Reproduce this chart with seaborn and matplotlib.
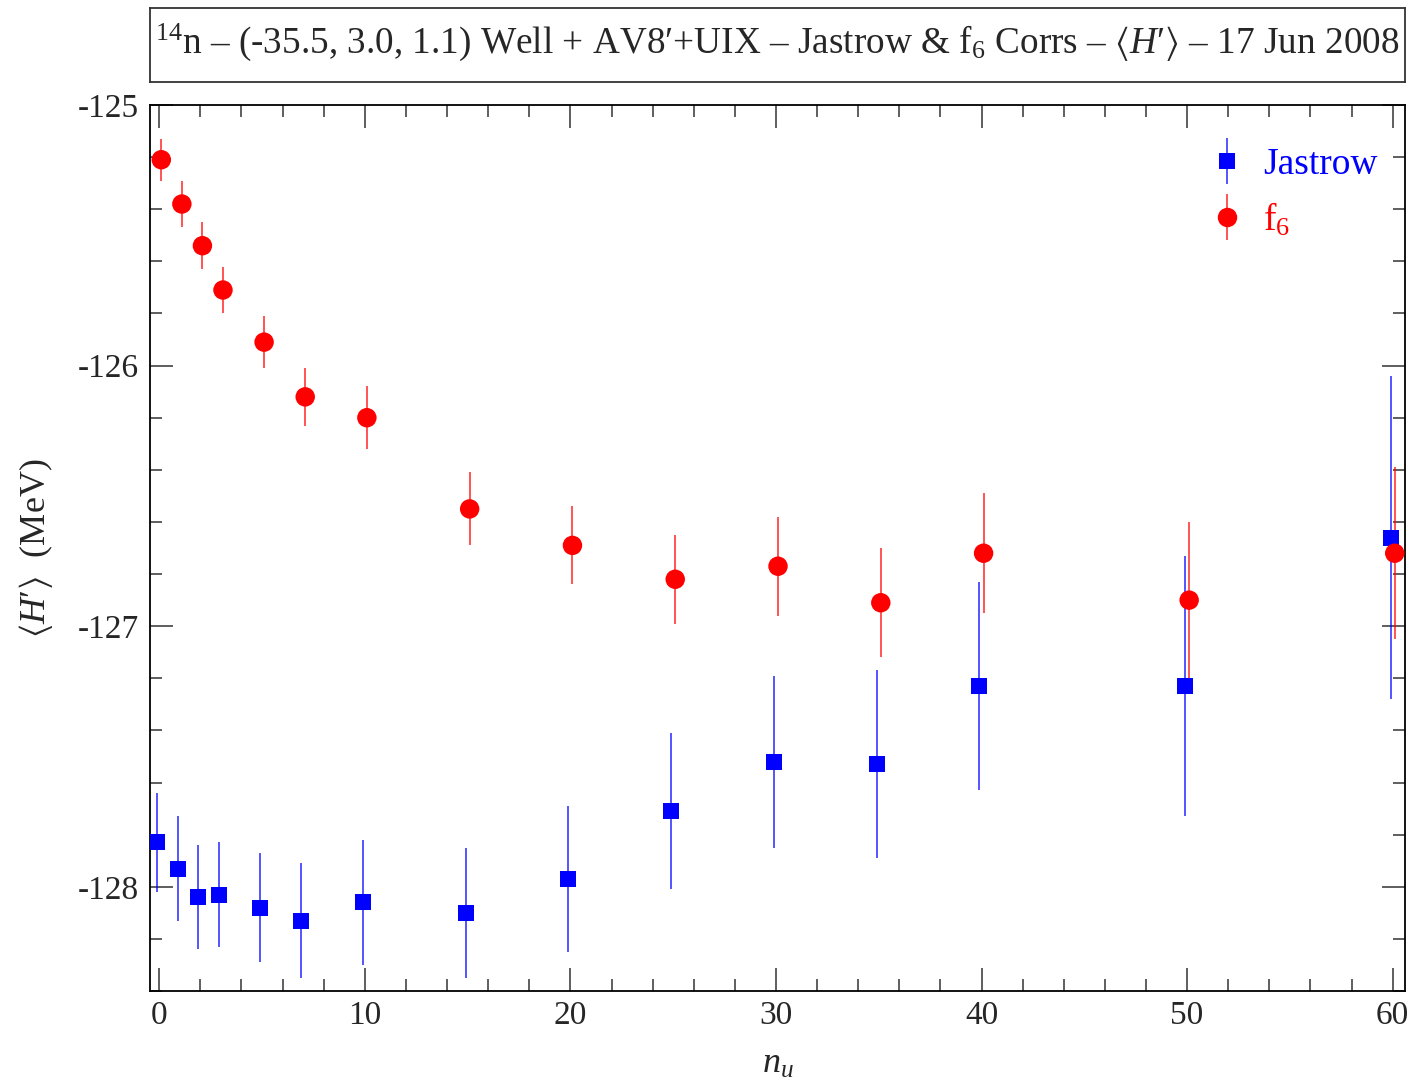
import numpy as np
import pandas as pd
import matplotlib
matplotlib.use("Agg")
import matplotlib.pyplot as plt
from matplotlib.ticker import MultipleLocator, FuncFormatter
from matplotlib.lines import Line2D
from matplotlib.container import ErrorbarContainer
from matplotlib.legend_handler import HandlerTuple, HandlerErrorbar
import seaborn as sns

# number of unconstrained steps
n_u = [0, 1, 2, 3, 5, 7, 10, 15, 20, 25, 30, 35, 40, 50, 60]

# <H'> energies (MeV) and statistical errors
jastrow_E = [-127.83, -127.93, -128.04, -128.03, -128.08, -128.13, -128.06,
             -128.10, -127.97, -127.71, -127.52, -127.53, -127.23, -127.23, -126.66]
jastrow_err = [0.19, 0.20, 0.20, 0.20, 0.21, 0.22, 0.24,
               0.25, 0.28, 0.30, 0.33, 0.36, 0.40, 0.50, 0.62]

f6_E = [-125.21, -125.38, -125.54, -125.71, -125.91, -126.12, -126.20,
        -126.55, -126.69, -126.82, -126.77, -126.91, -126.72, -126.90, -126.72]
f6_err = [0.08, 0.09, 0.09, 0.09, 0.10, 0.11, 0.12,
          0.14, 0.15, 0.17, 0.19, 0.21, 0.23, 0.30, 0.33]

series_labels = ["Jastrow", "f$_6$"]

df = pd.concat([
    pd.DataFrame({"n_u": n_u, "E": jastrow_E, "err": jastrow_err, "corr": series_labels[0]}),
    pd.DataFrame({"n_u": n_u, "E": f6_E, "err": f6_err, "corr": series_labels[1]}),
], ignore_index=True)

sns.set_theme(style="ticks")
plt.rcParams["font.family"] = ["Liberation Serif", "DejaVu Serif"]
plt.rcParams["mathtext.fontset"] = "custom"
plt.rcParams["mathtext.rm"] = "Liberation Serif"
plt.rcParams["mathtext.it"] = "Liberation Serif:italic"
plt.rcParams["mathtext.bf"] = "Liberation Serif:bold"
plt.rcParams["mathtext.fallback"] = "stix"

W, H = 1416, 1090
fig = plt.figure(figsize=(W / 100, H / 100), dpi=100)
ax = fig.add_axes([150 / W, 1 - 991 / H, (1405 - 150) / W, (991 - 105) / H])

styles = {
    series_labels[0]: dict(color="#0000ff", marker="s", ms=11.5, shift=-0.1),
    series_labels[1]: dict(color="#ff0000", marker="o", ms=14.0, shift=0.1),
}

handles = []
for name, sub in df.groupby("corr", sort=False):
    st = styles[name]
    h = ax.errorbar(sub["n_u"] + st["shift"], sub["E"], yerr=sub["err"],
                    fmt="none", ecolor=st["color"], elinewidth=1.1, capsize=0,
                    alpha=0.85, zorder=2)
    sns.scatterplot(x=sub["n_u"] + st["shift"], y=sub["E"], ax=ax,
                    color=st["color"], marker=st["marker"], s=st["ms"] ** 2,
                    edgecolor="none", linewidth=0, zorder=3, legend=False)
    mk = Line2D([], [], color=st["color"], marker=st["marker"], ms=st["ms"],
                markeredgewidth=0, linestyle="none")
    handles.append((h, mk))

ax.set_xlim(-0.45, 60.6)
ax.set_ylim(-128.4, -125.0)
ax.xaxis.set_major_locator(MultipleLocator(10))
ax.xaxis.set_minor_locator(MultipleLocator(2))
ax.yaxis.set_major_locator(MultipleLocator(1))
ax.yaxis.set_minor_locator(MultipleLocator(0.2))
ax.yaxis.set_major_formatter(FuncFormatter(lambda v, p: f"{v:.0f}"))

ax.tick_params(which="both", direction="in", top=True, right=True,
               color="#333333", labelsize=24)
ax.tick_params(axis="x", pad=7)
ax.tick_params(axis="y", pad=8)
ax.tick_params(which="major", length=16.5, width=1.1)
ax.tick_params(which="minor", length=8.5, width=1.1)
for sp in ax.spines.values():
    sp.set_linewidth(1.3)
    sp.set_color("black")

ax.set_xlabel("$n_u$", fontsize=26, labelpad=12)
ax.set_ylabel(r"$\langle H\prime\rangle$  (MeV)", fontsize=26, labelpad=16)

leg = ax.legend(handles, series_labels, loc="upper right", frameon=False,
                fontsize=27, handlelength=0.8, handletextpad=0.55,
                labelspacing=0.5, borderaxespad=0.0,
                bbox_to_anchor=(0.990, 0.969),
                handler_map={tuple: HandlerTuple(ndivide=1),
                             ErrorbarContainer: HandlerErrorbar(xerr_size=0.62)})
for txt, n in zip(leg.get_texts(), series_labels):
    txt.set_color(styles[n]["color"])

# title box
box_ax = fig.add_axes([150 / W, 1 - 82 / H, (1405 - 150) / W, (82 - 8) / H])
box_ax.set_xticks([])
box_ax.set_yticks([])
for sp in box_ax.spines.values():
    sp.set_linewidth(1.3)
    sp.set_color("#333333")
box_ax.text(0.5, 0.53,
            "$^{14}$n \u2013 (-35.5, 3.0, 1.1) Well + AV8$\\prime$+UIX \u2013 Jastrow & f$_6$ Corrs \u2013 "
            "$\\langle H\\prime\\rangle$ \u2013 17 Jun 2008",
            ha="center", va="center", fontsize=26.8, transform=box_ax.transAxes)

fig.savefig("out.png", dpi=100)
